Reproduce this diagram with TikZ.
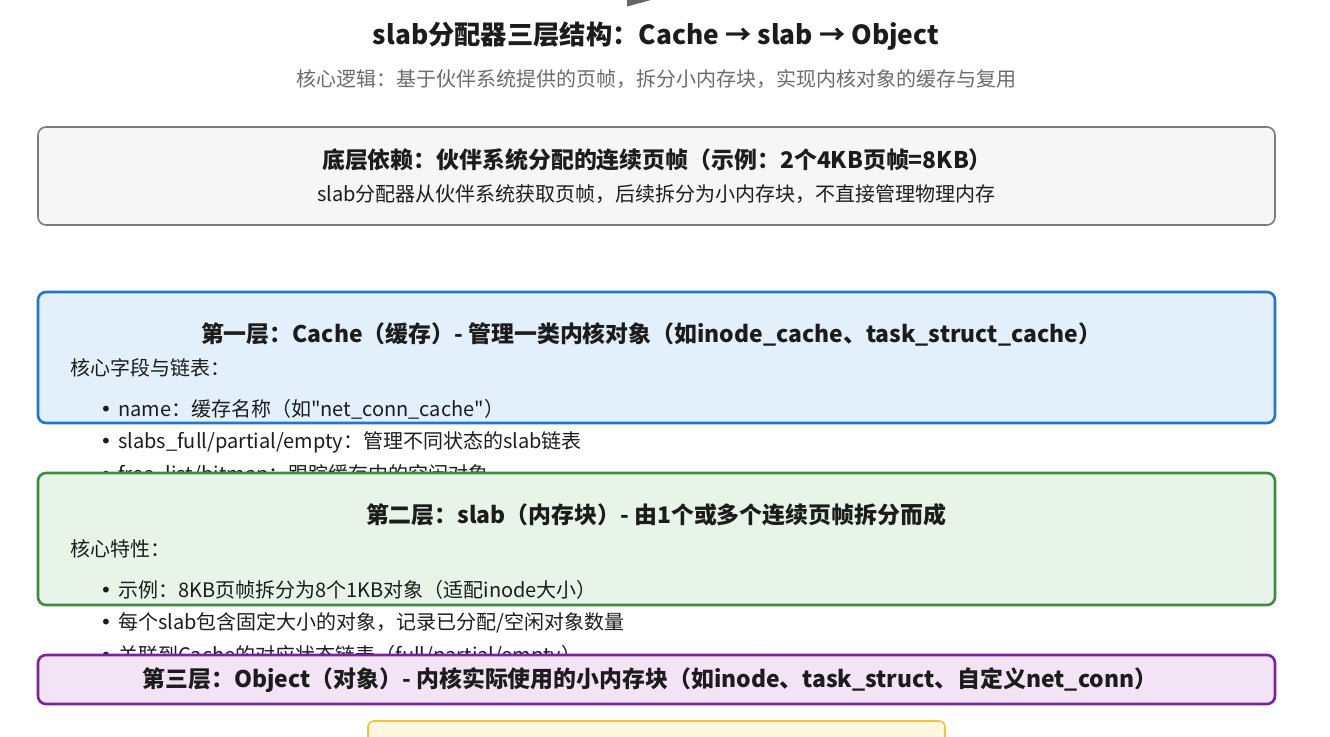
\documentclass[tikz,border=0pt]{standalone}
\usepackage{fontspec}
\setmainfont{Noto Sans CJK SC}[Ligatures=TeXOff]
\newfontfamily\bulletfont{DejaVu Sans}
\newcommand{\itembullet}{\makebox[18pt][l]{\bulletfont •}}
\tikzset{
  layerbox/.style={draw, rounded corners=8pt, line width=2.6pt, minimum width=1237pt},
  boxtitle/.style={font=\fontsize{22.9}{27}\selectfont\bfseries, text=textblack, inner sep=0pt},
  bodytext/.style={font=\fontsize{20}{24}\selectfont, text=textblack, inner sep=0pt},
  itemtext/.style={bodytext, anchor=west},
}
\begin{document}
\begin{tikzpicture}[x=1pt,y=-1pt]
        %colores
        \definecolor{textblack}{HTML}{1C1C1C}
        \definecolor{subgrey}{HTML}{6B6B6B}
        \definecolor{arrowgrey}{HTML}{666666}
        \definecolor{basegrey}{HTML}{7A7A7A}
        \definecolor{basefill}{HTML}{F6F6F6}
        \definecolor{cacheblue}{HTML}{1E78D2}
        \definecolor{cachefill}{HTML}{E3F0FC}
        \definecolor{slabgreen}{HTML}{3A8E3E}
        \definecolor{slabfill}{HTML}{E7F4E7}
        \definecolor{objpurple}{HTML}{7B22A0}
        \definecolor{objfill}{HTML}{F3E4F5}
        \definecolor{noteyellow}{HTML}{FBC02D}
        \definecolor{notefill}{HTML}{FFF8E1}
        \useasboundingbox (0,0) rectangle (1330,736);
        \clip (0,0) rectangle (1330,736);

        % Punta de flecha cortada arriba
        \fill[arrowgrey] (627,0) -- (651,0) -- (627,6.5) -- cycle;

        % Titulo y subtitulo
        \node[font=\fontsize{26.3}{30}\selectfont\bfseries, text=textblack] (title) at (656,36)
            {slab分配器三层结构：Cache → slab → Object};
        \node[bodytext, text=subgrey] (subtitle) at (656,79)
            {核心逻辑：基于伙伴系统提供的页帧，拆分小内存块，实现内核对象的缓存与复用};

        % Capa base: paginas del sistema buddy
        \node[layerbox, line width=1.6pt, draw=basegrey, fill=basefill, minimum height=98pt] (base) at (656.5,176) {};
        \node[boxtitle] (basetitle) at (657,160) {底层依赖：伙伴系统分配的连续页帧（示例：2个4KB页帧=8KB）};
        \node[bodytext] (basetext) at (656.5,194) {slab分配器从伙伴系统获取页帧，后续拆分为小内存块，不直接管理物理内存};

        % Capa 1: Cache
        \node[layerbox, draw=cacheblue, fill=cachefill, minimum height=131pt] (cache) at (656.5,357.5) {};
        \node[boxtitle] (cachetitle) at (651,334) {第一层：Cache（缓存）- 管理一类内核对象（如inode\_cache、task\_struct\_cache）};
        \node[itemtext] (cachehead) at (70,368) {核心字段与链表：};
        \foreach \y/\txt [count=\n] in {409/{name：缓存名称（如"net\_conn\_cache"）},
                                      442/{slabs\_full/partial/empty：管理不同状态的slab链表},
                                      475/{free\_list/bitmap：跟踪缓存中的空闲对象}}
            \node[itemtext] (cacheitem\n) at (100,\y) {\itembullet\txt};

        % Capa 2: slab
        \node[layerbox, draw=slabgreen, fill=slabfill, minimum height=132pt] (slab) at (656.5,539) {};
        \node[boxtitle] (slabtitle) at (656,515) {第二层：slab（内存块）- 由1个或多个连续页帧拆分而成};
        \node[itemtext] (slabhead) at (70,549) {核心特性：};
        \foreach \y/\txt [count=\n] in {590/{示例：8KB页帧拆分为8个1KB对象（适配inode大小）},
                                      623/{每个slab包含固定大小的对象，记录已分配/空闲对象数量},
                                      656/{关联到Cache的对应状态链表（full/partial/empty）}}
            \node[itemtext] (slabitem\n) at (100,\y) {\itembullet\txt};

        % Capa 3: Object
        \node[layerbox, draw=objpurple, fill=objfill, minimum height=49pt] (object) at (656.5,679.5) {};
        \node[boxtitle] (objecttitle) at (650,680) {第三层：Object（对象）- 内核实际使用的小内存块（如inode、task\_struct、自定义net\_conn）};

        % Caja amarilla (cortada abajo)
        \node[draw=noteyellow, fill=notefill, line width=1.6pt, rounded corners=6pt,
              minimum width=577pt, minimum height=60pt] (note) at (656.5,751) {};
\end{tikzpicture}
\end{document}
